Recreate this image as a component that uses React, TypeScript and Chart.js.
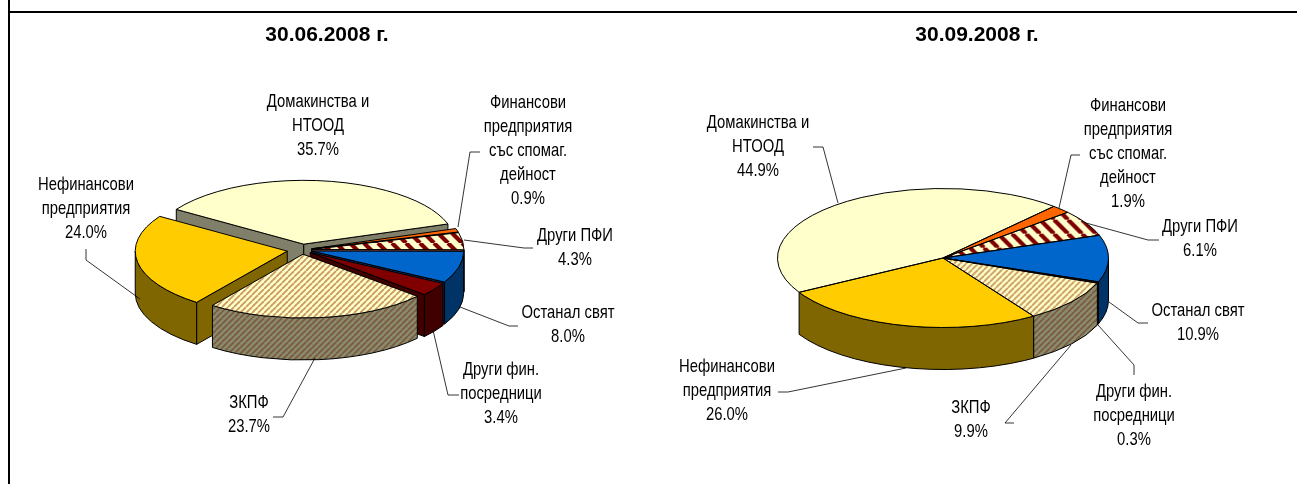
import React, { useEffect, useRef } from "react";
import { Chart, registerables } from "chart.js";

Chart.register(...registerables);

const categories = [
  "Домакинства и НТООД",
  "Финансови предприятия със спомаг. дейност",
  "Други ПФИ",
  "Останал свят",
  "Други фин. посредници",
  "ЗКПФ",
  "Нефинансови предприятия",
];
const valuesJune = [35.7, 0.9, 4.3, 8.0, 3.4, 23.7, 24.0];
const valuesSeptember = [44.9, 1.9, 6.1, 10.9, 0.3, 9.9, 26.0];
const titleJune = "30.06.2008 г.";
const titleSeptember = "30.09.2008 г.";
const labelLines = [
  ["Домакинства и", "НТООД"],
  ["Финансови", "предприятия", "със спомаг.", "дейност"],
  ["Други ПФИ"],
  ["Останал свят"],
  ["Други фин.", "посредници"],
  ["ЗКПФ"],
  ["Нефинансови", "предприятия"],
];

const topColors = ["#FFFFCC", "#FF6600", "P1", "#0066CC", "#800000", "P2", "#FFCC00"];
const sideColors = ["#80806A", "#803300", "#804040", "#003366", "#400000", "P3", "#806600"];

const K = 0.42;
const DEPTH = 42;
const LINE_H = 24;
const LABEL_STRETCH = 0.78;

type Layout = {
  left: number; width: number;
  cx: number; cy: number; radius: number; rotation: number;
  offsets: number[];
  titleX: number;
  labels: [number, number][];
  leaders: [number, number][][];
};

const layoutJune: Layout = {
  left: 0, width: 648, cx: 302, cy: 250, radius: 152, rotation: -57,
  offsets: [14, 10, 10, 10, 10, 10, 15],
  titleX: 327,
  labels: [[318, 102], [528, 103], [575, 236], [568, 313], [501, 370], [249, 403], [86, 185]],
  leaders: [
    [[480, 152], [470, 152], [458, 227]],
    [[533, 248], [524, 248], [464, 240]],
    [[518, 326], [509, 326], [460, 307]],
    [[459, 395], [448, 395], [433, 330]],
    [[315, 358], [283, 417], [273, 417]],
    [[86, 249], [86, 260], [140, 299]],
  ],
};
const layoutSeptember: Layout = {
  left: 648, width: 649, cx: 943, cy: 258, radius: 165.5, rotation: -119.6,
  offsets: [0, 0, 0, 0, 0, 0, 0],
  titleX: 977,
  labels: [[758, 123], [1128, 106], [1200, 227], [1198, 311], [1134, 392], [971, 408], [727, 367]],
  leaders: [
    [[813, 147], [823, 147], [838, 203]],
    [[1080, 155], [1071, 155], [1059, 208]],
    [[1159, 240], [1148, 240], [1086, 223]],
    [[1148, 323], [1138, 323], [1109, 302]],
    [[1134, 375], [1134, 365], [1098, 325]],
    [[1014, 423], [1005, 423], [1071, 345]],
    [[778, 392], [788, 392], [906, 368]],
  ],
};

function stripes(bg: string, fg: string, size: number, lw: number, dir: 1 | -1, squash: number) {
  const c = document.createElement("canvas");
  c.width = size; c.height = size;
  const g = c.getContext("2d")!;
  g.fillStyle = bg;
  g.fillRect(0, 0, size, size);
  g.strokeStyle = fg;
  g.lineWidth = lw;
  for (let i = -1; i <= 1; i++) {
    g.beginPath();
    if (dir === 1) {
      g.moveTo(i * size, size); g.lineTo(i * size + size, 0);
    } else {
      g.moveTo(i * size, 0); g.lineTo(i * size + size, size);
    }
    g.stroke();
  }
  const p = g.createPattern(c, "repeat")!;
  if (squash !== 1) p.setTransform(new DOMMatrix().scale(1, squash));
  return p;
}

function makeChart(canvas: HTMLCanvasElement, values: number[], title: string, L: Layout) {
  const localCx = L.cx - L.left;
  const fills: any = {
    P1: stripes("#FFFFCC", "#800000", 14, 4.2, -1, 1 / K),
    P2: stripes("#FFFFCC", "#C8965A", 6, 1.7, 1, 1 / K),
    P3: stripes("#8A8A70", "#7A5A3A", 6, 1.7, 1, 1),
  };
  const fill = (c: string) => fills[c] || c;

  const geoms = (chart: any) =>
    chart.getDatasetMeta(0).data.map((a: any, i: number) => ({
      i,
      x: a.x,
      y: L.cy + (a.y - L.cy) * K,
      s: a.startAngle,
      e: a.endAngle,
      R: a.outerRadius,
    }));

  const plugin = {
    id: "pie3d",
    afterDatasetsUpdate(chart: any) {
      chart.getDatasetMeta(0).data.forEach((a: any, i: number) => {
        const mid = (a.startAngle + a.endAngle) / 2;
        a.x += Math.cos(mid) * L.offsets[i];
        a.y += Math.sin(mid) * L.offsets[i];
      });
    },
    beforeDatasetsDraw(chart: any) {
      const ctx = chart.ctx;
      const gs = geoms(chart);
      const order = [...gs].sort(
        (a: any, b: any) => Math.sin((a.s + a.e) / 2) - Math.sin((b.s + b.e) / 2)
      );
      ctx.save();
      ctx.strokeStyle = "#000";
      ctx.lineWidth = 1;
      for (const g of order) {
        const rx = g.R, ry = g.R * K;
        ctx.fillStyle = fill(sideColors[g.i]);
        const wall = (t: number) => {
          const px = g.x + Math.cos(t) * rx, py = g.y + Math.sin(t) * ry;
          ctx.beginPath();
          ctx.moveTo(g.x, g.y);
          ctx.lineTo(px, py);
          ctx.lineTo(px, py + DEPTH);
          ctx.lineTo(g.x, g.y + DEPTH);
          ctx.closePath();
          ctx.fill();
          ctx.stroke();
        };
        if (L.offsets[g.i] > 0) {
          if (Math.cos(g.s) < 0) wall(g.s);
          if (Math.cos(g.e) > 0) wall(g.e);
        }
        const a0 = Math.max(g.s, 0), a1 = Math.min(g.e, Math.PI);
        if (a1 > a0) {
          ctx.beginPath();
          ctx.ellipse(g.x, g.y, rx, ry, 0, a0, a1);
          ctx.ellipse(g.x, g.y + DEPTH, rx, ry, 0, a1, a0, true);
          ctx.closePath();
          ctx.fill();
          ctx.stroke();
        }
      }
      ctx.restore();
      ctx.save();
      ctx.translate(localCx, L.cy);
      ctx.scale(1, K);
      ctx.translate(-localCx, -L.cy);
    },
    afterDatasetsDraw(chart: any) {
      const ctx = chart.ctx;
      ctx.restore();
      ctx.save();
      ctx.strokeStyle = "#000";
      ctx.lineWidth = 1;
      for (const g of geoms(chart)) {
        ctx.beginPath();
        ctx.moveTo(g.x, g.y);
        ctx.ellipse(g.x, g.y, g.R, g.R * K, 0, g.s, g.e);
        ctx.closePath();
        ctx.stroke();
      }
      ctx.restore();
    },
    afterDraw(chart: any) {
      const ctx = chart.ctx;
      ctx.save();
      ctx.strokeStyle = "#000";
      ctx.lineWidth = 0.8;
      for (const line of L.leaders) {
        ctx.beginPath();
        line.forEach(([x, y], j) => {
          const px = x - L.left;
          if (j) ctx.lineTo(px, y);
          else ctx.moveTo(px, y);
        });
        ctx.stroke();
      }
      ctx.fillStyle = "#000";
      ctx.textAlign = "center";
      ctx.textBaseline = "middle";
      ctx.font = 'bold 21px "Liberation Sans", Arial, sans-serif';
      ctx.fillText(title, L.titleX - L.left, 35);
      ctx.font = '19px "Liberation Sans", Arial, sans-serif';
      categories.forEach((_, i) => {
        const lines = [...labelLines[i], values[i].toFixed(1) + "%"];
        const [x, y] = L.labels[i];
        lines.forEach((t, j) => {
          ctx.save();
          ctx.translate(x - L.left, y + j * LINE_H);
          ctx.scale(LABEL_STRETCH, 1);
          ctx.fillText(t, 0, 0);
          ctx.restore();
        });
      });
      ctx.restore();
    },
  };

  return new Chart(canvas, {
    type: "pie",
    data: {
      labels: categories,
      datasets: [
        {
          data: values,
          backgroundColor: topColors.map(fill),
          borderWidth: 0,
          radius: L.radius,
        } as any,
      ],
    },
    options: {
      animation: false,
      responsive: false,
      rotation: L.rotation,
      events: [],
      layout: {
        padding: {
          left: 0,
          top: Math.max(0, 2 * L.cy - 484),
          right: L.width - 2 * localCx,
          bottom: Math.max(0, 484 - 2 * L.cy),
        },
      },
      plugins: { legend: { display: false }, tooltip: { enabled: false }, title: { display: false } },
    } as any,
    plugins: [plugin],
  });
}

export default function App() {
  const a = useRef<HTMLCanvasElement>(null);
  const b = useRef<HTMLCanvasElement>(null);
  useEffect(() => {
    document.body.style.margin = "0";
    const c1 = makeChart(a.current!, valuesJune, titleJune, layoutJune);
    const c2 = makeChart(b.current!, valuesSeptember, titleSeptember, layoutSeptember);
    return () => {
      c1.destroy();
      c2.destroy();
    };
  }, []);
  return (
    <div style={{ position: "relative", width: 1297, height: 484, overflow: "hidden", background: "#fff" }}>
      <canvas ref={a} width={layoutJune.width} height={484} style={{ position: "absolute", left: layoutJune.left, top: 0 }} />
      <canvas ref={b} width={layoutSeptember.width} height={484} style={{ position: "absolute", left: layoutSeptember.left, top: 0 }} />
      <div style={{ position: "absolute", left: 8, top: 0, width: 2, height: 484, background: "#000" }} />
      <div style={{ position: "absolute", left: 8, top: 11, width: 1289, height: 2, background: "#000" }} />
    </div>
  );
}
